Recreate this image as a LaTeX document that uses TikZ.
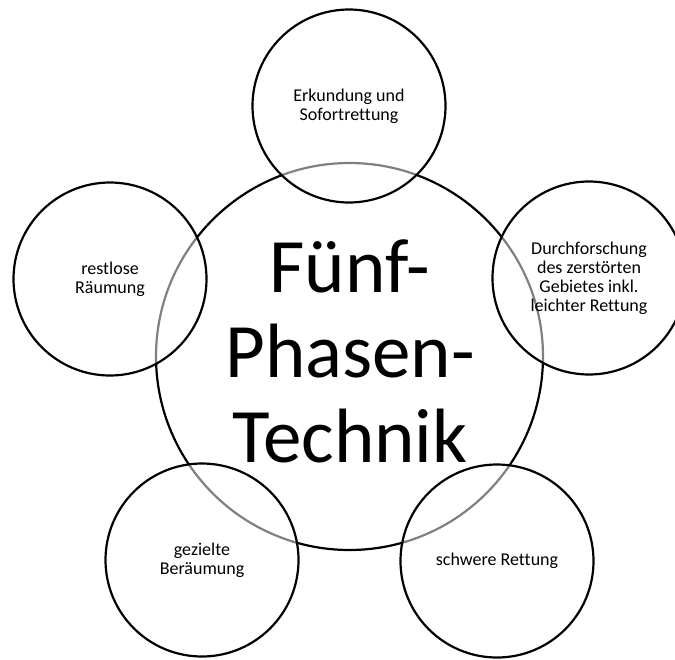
\documentclass[tikz,border=0pt]{standalone}
\usepackage{fontspec}
\setmainfont{Carlito}[Ligatures=CommonOff]
\begin{document}
\begin{tikzpicture}[x=1pt,y=-1pt,
  ring/.style={circle, draw=black, line width=2.2pt, inner sep=0pt},
  hubring/.style={ring, minimum size=387pt},
  phase/.style={ring, minimum size=193pt, fill=white, fill opacity=0.5,
    text opacity=1, align=center, font=\fontsize{18}{19}\selectfont}]
\useasboundingbox (0,0) rectangle (675,659);
% central circle and its title
\node[hubring] (hub) at (349.5,356.5) {};
\node[align=center, font=\fontsize{77}{85}\selectfont] (title) at (350,351)
  {Fünf-\\Phasen-\\Technik};
% the five phases, translucent so the central ring shows grey beneath
\node[phase] (p1) at (349,106) {Erkundung und\\Sofortrettung};
\node[phase] (p2) at (589,278) {Durchforschung\\des zerstörten\\Gebietes inkl.\\leichter Rettung};
\node[phase] (p3) at (497,561) {schwere Rettung};
\node[phase] (p4) at (202,560) {gezielte\\Beräumung};
\node[phase] (p5) at (110,279) {restlose\\Räumung};
\end{tikzpicture}
\end{document}
